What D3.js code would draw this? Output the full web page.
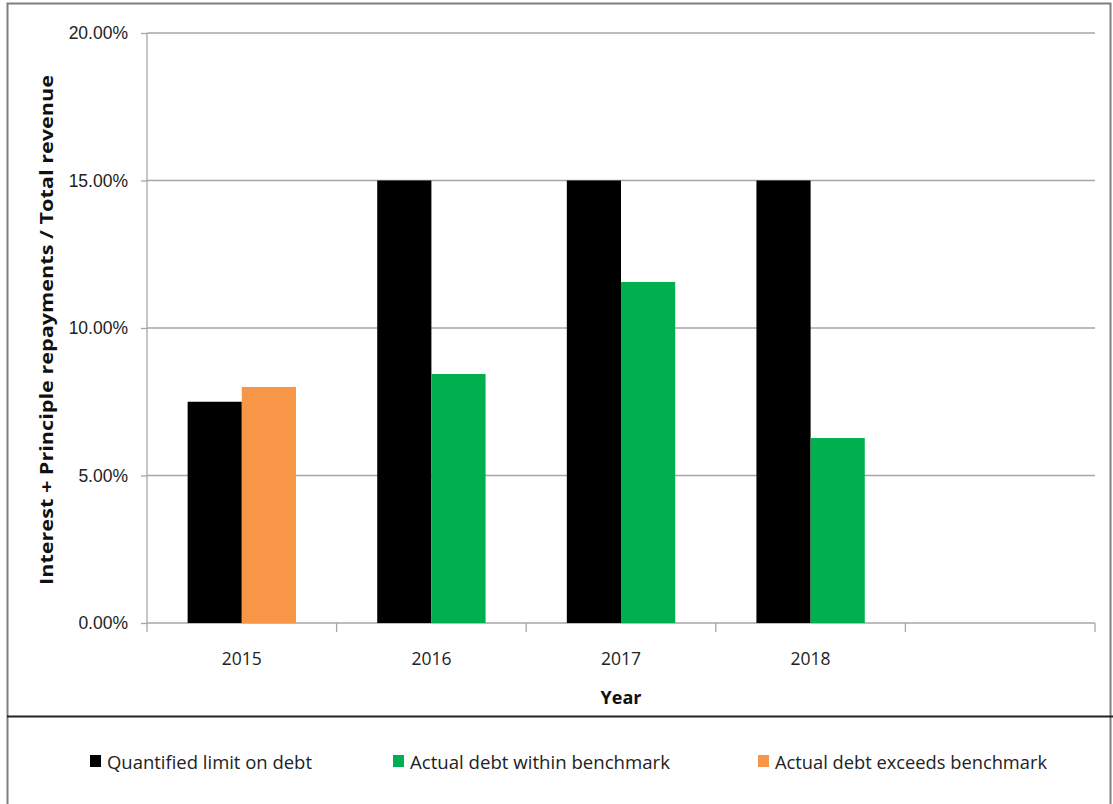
<!DOCTYPE html>
<html lang="en">
<head>
<meta charset="utf-8">
<title>Debt benchmark</title>
<script src="https://cdn.jsdelivr.net/npm/d3@7"></script>
<style>
  body { margin: 0; background: #fff; }
  svg { display: block; font-family: "Open Sans", "DejaVu Sans", sans-serif; }
  .grid line { stroke: #a6a6a6; stroke-width: 1.3; }
  .axis path, .axis line { stroke: #a6a6a6; stroke-width: 1.3; }
  .axis text { fill: #222; font-size: 17.5px; }
</style>
</head>
<body>
<div id="chart"></div>
<script>
// categories and values (percent of total revenue)
var years = ["2015", "2016", "2017", "2018", ""];
var limitOnDebt = [7.5, 15, 15, 15, null];
var withinBenchmark = [null, 8.44, 11.56, 6.27, null];
var exceedsBenchmark = [8.0, null, null, null, null];
var yTicks = [0, 5, 10, 15, 20];

var seriesNames = ["Quantified limit on debt", "Actual debt within benchmark", "Actual debt exceeds benchmark"];
var seriesColors = ["#000000", "#00b050", "#f79646"];

var width = 1113, height = 804;
var margin = {left: 147, right: 18, top: 33, bottom: 181};

var svg = d3.select("#chart").append("svg")
    .attr("width", width)
    .attr("height", height);

// outer frame and legend separator
svg.append("rect")
    .attr("x", 7.5).attr("y", 3.5)
    .attr("width", 1103).attr("height", 820)
    .attr("fill", "none").attr("stroke", "#7f7f7f").attr("stroke-width", 2);
svg.append("line")
    .attr("x1", 7).attr("x2", width)
    .attr("y1", 716.5).attr("y2", 716.5)
    .attr("stroke", "#222").attr("stroke-width", 2);

var x = d3.scaleBand()
    .domain(years.map(function(d, i) { return i; }))
    .range([margin.left, width - margin.right]);

var y = d3.scaleLinear()
    .domain([0, 20])
    .range([height - margin.bottom, margin.top]);

var inner = d3.scaleBand()
    .domain([0, 1])
    .range([0, x.bandwidth()])
    .paddingInner(0)
    .paddingOuter(0.75);

// gridlines
svg.append("g")
    .attr("class", "grid")
  .selectAll("line")
    .data(yTicks.slice(1))
  .enter().append("line")
    .attr("x1", margin.left).attr("x2", width - margin.right)
    .attr("y1", function(d) { return y(d); })
    .attr("y2", function(d) { return y(d); });

// y axis
var yAxis = svg.append("g")
    .attr("class", "axis")
    .attr("transform", "translate(" + margin.left + ",0)")
    .call(d3.axisLeft(y).tickValues(yTicks).tickSize(6).tickPadding(13)
      .tickFormat(function(d) { return d.toFixed(2) + "%"; }));
yAxis.select(".domain").attr("d", "M0," + y(0) + "V" + y(20));

// x axis with ticks at category boundaries
var xAxis = svg.append("g")
    .attr("class", "axis")
    .attr("transform", "translate(0," + y(0) + ")");
xAxis.append("line")
    .attr("x1", margin.left).attr("x2", width - margin.right);
xAxis.selectAll(".tk")
    .data(years.concat(["end"]))
  .enter().append("line")
    .attr("class", "tk")
    .attr("x1", function(d, i) { return margin.left + i * x.step(); })
    .attr("x2", function(d, i) { return margin.left + i * x.step(); })
    .attr("y1", 0).attr("y2", 9);
xAxis.selectAll("text")
    .data(years)
  .enter().append("text")
    .attr("x", function(d, i) { return x(i) + x.bandwidth() / 2; })
    .attr("y", 42)
    .attr("text-anchor", "middle")
    .text(function(d) { return d; });

// bars: first the limit, then whichever actual value exists
var bars = [];
years.forEach(function(yr, i) {
  if (limitOnDebt[i] != null) bars.push({i: i, slot: 0, v: limitOnDebt[i], c: seriesColors[0]});
  if (withinBenchmark[i] != null) bars.push({i: i, slot: 1, v: withinBenchmark[i], c: seriesColors[1]});
  if (exceedsBenchmark[i] != null) bars.push({i: i, slot: 1, v: exceedsBenchmark[i], c: seriesColors[2]});
});

svg.append("g")
  .selectAll("rect")
    .data(bars)
  .enter().append("rect")
    .attr("x", function(d) { return x(d.i) + inner(d.slot); })
    .attr("width", inner.bandwidth())
    .attr("y", function(d) { return y(d.v); })
    .attr("height", function(d) { return y(0) - y(d.v); })
    .attr("fill", function(d) { return d.c; });

// axis titles
svg.append("text")
    .attr("transform", "translate(53," + 330 + ") rotate(-90)")
    .attr("text-anchor", "middle")
    .attr("font-size", 17)
    .attr("font-weight", "bold")
    .attr("fill", "#111")
    .attr("textLength", 510)
    .attr("lengthAdjust", "spacingAndGlyphs")
    .text("Interest + Principle repayments / Total revenue");

svg.append("text")
    .attr("x", 621).attr("y", 704)
    .attr("text-anchor", "middle")
    .attr("font-size", 18)
    .attr("font-weight", "bold")
    .attr("fill", "#111")
    .text("Year");

// legend
var legendX = [90, 393, 758];
var legendW = [205, 260, 272];
var legend = svg.append("g")
  .selectAll("g")
    .data(seriesNames)
  .enter().append("g")
    .attr("transform", function(d, i) { return "translate(" + legendX[i] + ",755)"; });
legend.append("rect")
    .attr("width", 11).attr("height", 12)
    .attr("fill", function(d, i) { return seriesColors[i]; });
legend.append("text")
    .attr("x", 17).attr("y", 14)
    .attr("font-size", 19)
    .attr("fill", "#222")
    .attr("textLength", function(d, i) { return legendW[i]; })
    .attr("lengthAdjust", "spacingAndGlyphs")
    .text(function(d) { return d; });
</script>
</body>
</html>
